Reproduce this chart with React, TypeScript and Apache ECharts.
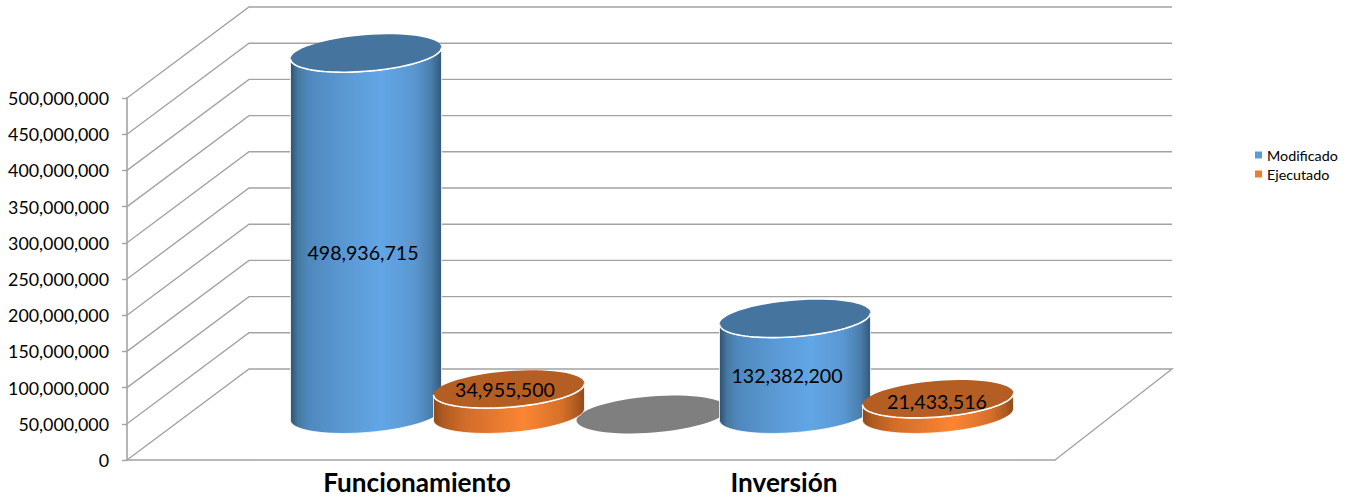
import React, { useEffect, useRef } from "react";
import * as echarts from "echarts";

const categories = ["Funcionamiento", "Inversión"];
const modificado = [498936715, 132382200];
const ejecutado = [34955500, 21433516];
const tercera: (number | null)[] = [0, null];
const yTicks = [0, 50000000, 100000000, 150000000, 200000000, 250000000, 300000000, 350000000, 400000000, 450000000, 500000000];

// label nudges relative to the middle of each cylinder (drawing style, not data)
const nudgeMod = [[-3, 19], [-8, 9]];
const nudgeEje = [[-4, -12], [-1, -5]];

const DX_L = 122;
const DX_R = 117;
const DY = 91;
const TILT = (-4.6 * Math.PI) / 180;
const GRID_LINE = "#a3a3a3";

const fmt = (v: number) => v.toLocaleString("en-US");

function ellipsePts(cx: number, cy: number, rx: number, ry: number, t0: number, t1: number, n = 48) {
  const pts: number[][] = [];
  const c = Math.cos(TILT), s = Math.sin(TILT);
  for (let i = 0; i <= n; i++) {
    const t = t0 + ((t1 - t0) * i) / n;
    const ex = rx * Math.cos(t), ey = ry * Math.sin(t);
    pts.push([cx + ex * c - ey * s, cy + ex * s + ey * c]);
  }
  return pts;
}

type Pal = { top: string; stops: [number, string][] };
const BLUE: Pal = {
  top: "#45749f",
  stops: [[0, "#2e5273"], [0.05, "#47799f"], [0.12, "#4f88bd"], [0.35, "#5a98d2"], [0.6, "#62a6e6"], [0.82, "#5a97d1"], [0.93, "#4a7fae"], [1, "#33587c"]],
};
const ORANGE: Pal = {
  top: "#b45e23",
  stops: [[0, "#8f4a18"], [0.06, "#ad5a21"], [0.2, "#d06c29"], [0.6, "#fb8533"], [0.85, "#d67029"], [0.95, "#ad5a21"], [1, "#8f4a18"]],
};

function cylinder(offsetSlot: number, pal: Pal | null, nudge: number[][] | null) {
  return (params: any, api: any) => {
    const idx = api.value(0);
    const val = api.value(1);
    if (val === null || val === undefined || isNaN(val)) return null;
    const band = api.size([1, 0])[0];
    const topC = api.coord([idx, val]);
    const botC = api.coord([idx, 0]);
    const cx = topC[0] + (offsetSlot * band) / 3 + DX_L / 2;
    const yTop = topC[1] - DY / 2;
    const yBot = botC[1] - DY / 2;
    const rx = band * 0.1765;
    const ry = 18;
    const children: any[] = [];
    if (!pal) {
      children.push({
        type: "polygon",
        shape: { points: ellipsePts(cx, yTop, rx, ry, 0, Math.PI * 2, 64) },
        style: { fill: "#7f7f7f" },
      });
      return { type: "group", children };
    }
    const t0 = Math.atan2(-ry * Math.sin(TILT), rx * Math.cos(TILT));
    const bottomArc = ellipsePts(cx, yBot, rx, ry, t0, t0 + Math.PI);
    const topArc = ellipsePts(cx, yTop, rx, ry, t0, t0 + Math.PI);
    children.push({
      type: "polygon",
      shape: { points: bottomArc.concat(topArc.slice().reverse()) },
      style: {
        fill: new echarts.graphic.LinearGradient(0, 0, 1, 0, pal.stops.map(([offset, color]) => ({ offset, color }))),
        stroke: "#ffffff",
        lineWidth: 0.8,
      },
    });
    children.push({
      type: "polygon",
      shape: { points: ellipsePts(cx, yTop, rx, ry, 0, Math.PI * 2, 64) },
      style: { fill: pal.top },
    });
    children.push({
      type: "polyline",
      shape: { points: topArc },
      style: { stroke: "#ffffff", lineWidth: 1.6, fill: "none" },
    });
    if (nudge) {
      const n = nudge[idx];
      children.push({
        type: "text",
        x: cx + n[0],
        y: (yTop + yBot) / 2 + n[1],
        style: {
          text: fmt(val),
          fill: "#000000",
          font: "19.6px Lato, sans-serif",
          align: "center",
          verticalAlign: "middle",
        },
      });
    }
    return { type: "group", children };
  };
}

function wallItem(params: any, api: any) {
  const v = api.value(0);
  const p = api.coord([0, v]);
  const left = params.coordSys.x;
  const right = left + params.coordSys.width;
  const pts = [
    [left, p[1]],
    [left + DX_L, p[1] - DY],
    [right + DX_R, p[1] - DY],
  ];
  if (v === 0) pts.push([right, p[1]]);
  return {
    type: "polyline",
    shape: { points: pts },
    style: { stroke: GRID_LINE, lineWidth: 1.4, fill: "none" },
  };
}

const LAYOUT_TOP = 98;
const LAYOUT_H = 362;

export default function App() {
  const ref = useRef<HTMLDivElement>(null);
  useEffect(() => {
    document.body.style.margin = "0";
    const chart = echarts.init(ref.current!, undefined, { renderer: "svg" });
    const hiddenY = (gridIndex: number) => ({
      type: "value" as const, gridIndex, min: 0, max: 500000000, interval: 50000000, show: false,
    });
    const toData = (arr: (number | null)[]) => arr.map((v, i) => [i, v]);
    chart.setOption({
      animation: false,
      backgroundColor: "#ffffff",
      grid: [
        { left: 127, top: LAYOUT_TOP, width: 928, height: LAYOUT_H },
        { left: 233.5, top: LAYOUT_TOP, width: 734, height: LAYOUT_H },
        { left: 233.5, top: LAYOUT_TOP, width: 858, height: LAYOUT_H },
      ],
      xAxis: [
        {
          type: "category", gridIndex: 0, data: categories,
          axisLine: { lineStyle: { color: GRID_LINE, width: 1.6 } },
          axisTick: { show: false }, axisLabel: { show: false },
        },
        {
          type: "category", gridIndex: 1, data: categories,
          axisLine: { show: false }, axisTick: { show: false },
          axisLabel: { fontFamily: "Lato, sans-serif", fontWeight: "bold", fontSize: 26.2, color: "#000000", margin: 9 },
        },
        { type: "category", gridIndex: 2, data: categories, show: false },
      ],
      yAxis: [
        {
          type: "value", gridIndex: 0, min: 0, max: 500000000, interval: 50000000,
          axisLine: { show: true, lineStyle: { color: GRID_LINE, width: 1.6 } },
          axisTick: { show: true, length: 5, lineStyle: { color: GRID_LINE, width: 1.4 } },
          splitLine: { show: false },
          axisLabel: {
            fontFamily: "Lato, sans-serif", fontSize: 17.8, color: "#000000", margin: 18,
            formatter: (v: number) => fmt(v),
          },
        },
        hiddenY(1),
        hiddenY(2),
      ],
      legend: {
        orient: "vertical",
        left: 1255,
        top: 148,
        padding: 0,
        data: [
          { name: "Modificado", itemStyle: { color: "#5b9bd5" } },
          { name: "Ejecutado", itemStyle: { color: "#ed7d31" } },
        ],
        icon: "rect",
        itemWidth: 7,
        itemHeight: 7,
        itemGap: 5,
        textStyle: { fontFamily: "Lato, sans-serif", fontSize: 14.3, color: "#000000" },
      },
      series: [
        {
          type: "custom", name: "Paredes", xAxisIndex: 0, yAxisIndex: 0, z: 1,
          data: yTicks.map((v) => [v]), encode: { y: 0 }, renderItem: wallItem, silent: true,
        },
        {
          type: "custom", name: "Serie3", xAxisIndex: 2, yAxisIndex: 2, z: 2,
          data: toData(tercera), encode: { x: 0, y: 1 }, renderItem: cylinder(1, null, null),
        },
        {
          type: "custom", name: "Modificado", xAxisIndex: 2, yAxisIndex: 2, z: 3,
          itemStyle: { color: "#5b9bd5" },
          data: toData(modificado), encode: { x: 0, y: 1 }, renderItem: cylinder(-1, BLUE, nudgeMod),
        },
        {
          type: "custom", name: "Ejecutado", xAxisIndex: 2, yAxisIndex: 2, z: 4,
          itemStyle: { color: "#ed7d31" },
          data: toData(ejecutado), encode: { x: 0, y: 1 }, renderItem: cylinder(0, ORANGE, nudgeEje),
        },
      ],
    });
    return () => chart.dispose();
  }, []);
  return <div ref={ref} style={{ position: "absolute", left: 0, top: 0, width: 1354, height: 497 }} />;
}
